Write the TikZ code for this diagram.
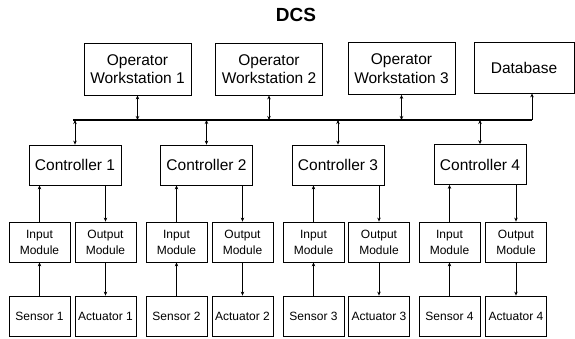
\documentclass[tikz,border=0pt]{standalone}
\usepackage{fontspec}
\setmainfont{Liberation Sans}
\usetikzlibrary{positioning, arrows.meta, calc}

\begin{document}
\begin{tikzpicture}[x=1pt, y=-1pt, font=\fontsize{15.5}{18.5}\selectfont,
    unit/.style={rectangle, draw, line width=0.8pt, minimum width=107pt, minimum height=52pt, align=center, inner sep=0pt},
    ctrl/.style={rectangle, draw, line width=0.8pt, minimum width=92pt, minimum height=40pt, inner sep=0pt},
    io/.style={rectangle, draw, line width=0.8pt, minimum width=61pt, minimum height=40pt, align=center, inner sep=0pt, font=\fontsize{12}{16}\selectfont},
    link/.style={-{Stealth[length=4pt, width=3.5pt]}, line width=0.7pt},
    duplex/.style={{Stealth[length=4pt, width=3.5pt]}-{Stealth[length=4pt, width=3.5pt]}, line width=0.7pt},
]
\useasboundingbox (0,0) rectangle (575,339);
\node[font=\fontsize{19}{21}\selectfont\bfseries] (title) at (296,15) {DCS};

% operator level
\node[unit] (ow1) at (137.5,69) {Operator\\Workstation 1};
\node[unit] (ow2) at (269,69) {Operator\\Workstation 2};
\node[unit] (ow3) at (401.5,68.5) {Operator\\Workstation 3};
\node[unit, minimum width=100pt, minimum height=51pt] (db) at (524,67.5) {Database};

% network bus
\coordinate (busL) at (73,120);
\coordinate (busR) at (532,120);
\draw[line width=1.3pt] (busL) -- (busR);
\draw[link] (busR) -- (db.south -| busR);

% controllers
\node[ctrl] (c1) at (75,165) {Controller 1};
\node[ctrl] (c2) at (206.5,165) {Controller 2};
\node[ctrl] (c3) at (338,165) {Controller 3};
\node[ctrl] (c4) at (480,164.5) {Controller 4};

\draw[duplex] (ow1.south) -- (ow1.south |- busL);
\draw[duplex] (ow2.south) -- (ow2.south |- busL);
\draw[duplex] (ow3.south) -- (ow3.south |- busL);
\draw[duplex] (c1.north |- busL) -- (c1.north);
\draw[duplex] (c2.north |- busL) -- (c2.north);
\draw[duplex] (c3.north |- busL) -- (c3.north);
\draw[duplex] (c4.north |- busL) -- (c4.north);

% I/O modules
\node[io] (in1) at (39.5,242) {Input\\Module};
\node[io] (out1) at (105.5,242) {Output\\Module};
\node[io] (in2) at (176.5,242) {Input\\Module};
\node[io] (out2) at (242.5,242) {Output\\Module};
\node[io] (in3) at (313.5,242) {Input\\Module};
\node[io] (out3) at (379,242) {Output\\Module};
\node[io] (in4) at (449.5,242) {Input\\Module};
\node[io] (out4) at (516,242) {Output\\Module};

% field devices
\node[io] (s1) at (39.5,316) {Sensor 1};
\node[io] (a1) at (105.5,316) {Actuator 1};
\node[io] (s2) at (176.5,316) {Sensor 2};
\node[io] (a2) at (242.5,316) {Actuator 2};
\node[io] (s3) at (313.5,316) {Sensor 3};
\node[io] (a3) at (379,316) {Actuator 3};
\node[io] (s4) at (449.5,316) {Sensor 4};
\node[io] (a4) at (516,316) {Actuator 4};

\draw[link] (in1.north) -- (in1.north |- c1.south);
\draw[link] (out1.north |- c1.south) -- (out1.north);
\draw[link] (in2.north) -- (in2.north |- c2.south);
\draw[link] (out2.north |- c2.south) -- (out2.north);
\draw[link] (in3.north) -- (in3.north |- c3.south);
\draw[link] (out3.north |- c3.south) -- (out3.north);
\draw[link] (in4.north) -- (in4.north |- c4.south);
\draw[link] (out4.north |- c4.south) -- (out4.north);

\draw[link] (s1) -- (in1);
\draw[link] (out1) -- (a1);
\draw[link] (s2) -- (in2);
\draw[link] (out2) -- (a2);
\draw[link] (s3) -- (in3);
\draw[link] (out3) -- (a3);
\draw[link] (s4) -- (in4);
\draw[link] (out4) -- (a4);
\end{tikzpicture}
\end{document}
